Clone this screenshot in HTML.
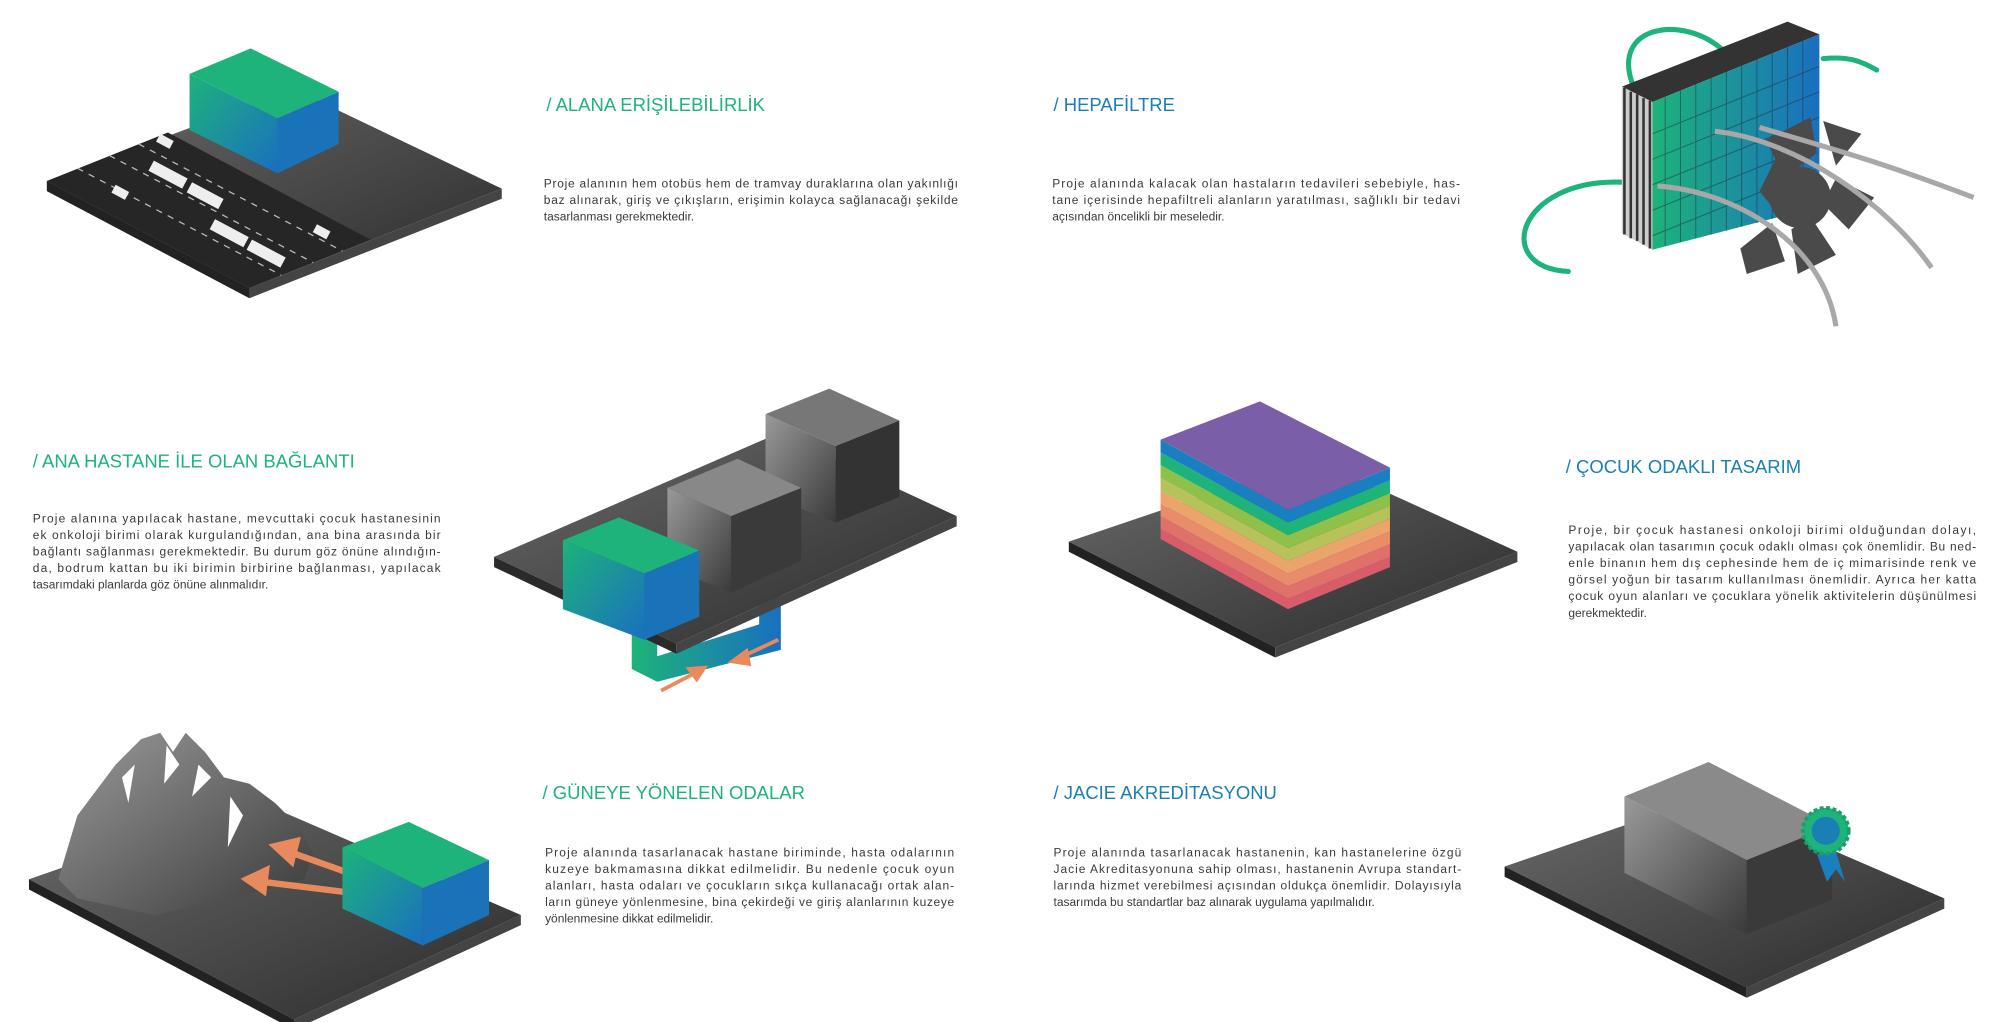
<!DOCTYPE html>
<html><head><meta charset="utf-8"><style>
html,body{margin:0;padding:0;background:#fff}
svg{display:block}
.t{font-family:"Liberation Sans",sans-serif;font-size:14.5px}
.b{font-family:"Liberation Sans",sans-serif;font-size:9.4px;fill:#3a3a3a}
.g{fill:#1db37a}.bl{fill:#1a7fb5}
</style></head><body>
<svg width="2000" height="1022" viewBox="0 0 1568 802" xmlns="http://www.w3.org/2000/svg">
<defs>
<linearGradient id="gb" x1="0" y1="0" x2="1" y2="1"><stop offset="0" stop-color="#1db37a"/><stop offset="1" stop-color="#1a6fc0"/></linearGradient>
<linearGradient id="gb2" x1="0" y1="0" x2="1" y2="0"><stop offset="0" stop-color="#1db37a"/><stop offset="1" stop-color="#1a6fc0"/></linearGradient>
<linearGradient id="gr" x1="0" y1="0" x2="1" y2="1"><stop offset="0" stop-color="#9a9a9a"/><stop offset="1" stop-color="#3a3a3a"/></linearGradient>
<linearGradient id="pl" x1="0" y1="0" x2="1" y2="1"><stop offset="0" stop-color="#6a6a6a"/><stop offset="1" stop-color="#2b2b2b"/></linearGradient>
</defs>

<!-- Panel 1 -->
<polygon points="36,142 195,226 393,148 230,70" fill="url(#pl)"/>
<polygon points="36,142 195,226 195,234 36,150" fill="#222"/>
<polygon points="195,226 393,148 393,156 195,234" fill="#444"/>
<polygon points="36,142 195,226 290,188 131,104" fill="#262626"/>
<g stroke="#bbb" stroke-width="1" stroke-dasharray="5,5">
<line x1="60" y1="132" x2="220" y2="216"/><line x1="85" y1="122" x2="245" y2="206"/><line x1="108" y1="113" x2="268" y2="197"/>
</g>
<g fill="#eee"><rect x="120" y="126" width="30" height="9" transform="rotate(28 120 126)"/><rect x="150" y="143" width="28" height="9" transform="rotate(28 150 143)"/><rect x="168" y="172" width="30" height="9" transform="rotate(28 168 172)"/><rect x="197" y="188" width="30" height="9" transform="rotate(28 197 188)"/><rect x="90" y="145" width="12" height="7" transform="rotate(28 90 145)"/><rect x="125" y="105" width="12" height="7" transform="rotate(28 125 105)"/><rect x="248" y="176" width="12" height="7" transform="rotate(28 248 176)"/></g>
<polygon points="148,58 196,38 265,72 217,93" fill="#1db37a"/>
<polygon points="148,58 217,93 217,136 148,102" fill="url(#gb)"/>
<polygon points="217,93 265,72 265,113 217,136" fill="#1a72b8"/>

<text class="t g" x="428" y="87">/ ALANA ERİŞİLEBİLİRLİK</text>
<text class="b" x="426" y="147" textLength="325">Proje alanının hem otobüs hem de tramvay duraklarına olan yakınlığı</text>
<text class="b" x="426" y="160" textLength="325">baz alınarak, giriş ve çıkışların, erişimin kolayca sağlanacağı şekilde</text>
<text class="b" x="426" y="173">tasarlanması gerekmektedir.</text>

<text class="t bl" x="826" y="87">/ HEPAFİLTRE</text>
<text class="b" x="825" y="147" textLength="320">Proje alanında kalacak olan hastaların tedavileri sebebiyle, has-</text>
<text class="b" x="825" y="160" textLength="320">tane içerisinde hepafiltreli alanların yaratılması, sağlıklı bir tedavi</text>
<text class="b" x="825" y="173">açısından öncelikli bir meseledir.</text>

<!-- Panel 2 filter -->
<g fill="none" stroke="#1db37a" stroke-width="4" stroke-linecap="round">
<path d="M1282,70 C1260,20 1320,10 1352,40"/>
<path d="M1430,46 C1450,44 1460,48 1472,55"/>
<path d="M1272,143 C1190,140 1170,210 1230,213"/>
</g>
<polygon points="1272,68 1402,17 1427,27 1296,80" fill="#333"/>
<polygon points="1272,68 1296,80 1296,196 1272,183" fill="#ccc"/>
<g stroke="#333" stroke-width="2"><line x1="1274" y1="69" x2="1274" y2="184"/><line x1="1279" y1="72" x2="1279" y2="187"/><line x1="1284" y1="74" x2="1284" y2="189"/><line x1="1289" y1="77" x2="1289" y2="192"/><line x1="1294" y1="79" x2="1294" y2="195"/></g>
<polygon points="1296,80 1427,27 1427,162 1296,196" fill="url(#gb2)"/>
<g stroke="#1f2f3a" stroke-width="0.8" opacity="0.5">
<line x1="1306" y1="76" x2="1306" y2="193"/><line x1="1318" y1="71" x2="1318" y2="190"/><line x1="1330" y1="66" x2="1330" y2="187"/><line x1="1342" y1="61" x2="1342" y2="184"/><line x1="1354" y1="56" x2="1354" y2="181"/><line x1="1366" y1="51" x2="1366" y2="178"/><line x1="1378" y1="46" x2="1378" y2="175"/><line x1="1390" y1="42" x2="1390" y2="172"/><line x1="1402" y1="37" x2="1402" y2="169"/><line x1="1414" y1="32" x2="1414" y2="166"/>
<line x1="1296" y1="105" x2="1427" y2="52"/><line x1="1296" y1="125" x2="1427" y2="72"/><line x1="1296" y1="145" x2="1427" y2="92"/><line x1="1296" y1="165" x2="1427" y2="112"/><line x1="1296" y1="185" x2="1427" y2="132"/>
</g>
<g fill="#4a4a4a">
<polygon points="1385,110 1420,92 1425,120 1400,140"/><polygon points="1430,95 1460,105 1440,130"/><polygon points="1440,140 1470,155 1450,180 1430,160"/><polygon points="1420,170 1440,200 1410,215 1405,180"/><polygon points="1390,175 1400,205 1370,215 1365,195"/><polygon points="1380,150 1395,120 1410,145 1400,175"/>
<circle cx="1412" cy="155" r="24"/>
</g>
<g fill="none" stroke="#a8a8a8" stroke-width="4">
<path d="M1345,103 C1410,110 1480,160 1515,210"/>
<path d="M1300,146 C1360,150 1430,190 1440,256"/>
<path d="M1380,100 C1430,115 1470,125 1548,155"/>
</g>

<!-- Middle left text -->
<text class="t g" x="25" y="367">/ ANA HASTANE İLE OLAN BAĞLANTI</text>
<text class="b" x="25" y="410" textLength="320">Proje alanına yapılacak hastane, mevcuttaki çocuk hastanesinin</text>
<text class="b" x="25" y="423" textLength="320">ek onkoloji birimi olarak kurgulandığından, ana bina arasında bir</text>
<text class="b" x="25" y="436" textLength="320">bağlantı sağlanması gerekmektedir. Bu durum göz önüne alındığın-</text>
<text class="b" x="25" y="449" textLength="320">da, bodrum kattan bu iki birimin birbirine bağlanması, yapılacak</text>
<text class="b" x="25" y="462">tasarımdaki planlarda göz önüne alınmalıdır.</text>

<!-- Panel 3 -->
<polygon points="495,495 612,450 612,510 515,535 495,525" fill="url(#gb2)"/>
<polygon points="515,495 595,465 595,490 515,515" fill="#fff"/>
<polygon points="387,437 530,505 750,405 610,340" fill="url(#pl)"/>
<polygon points="387,437 530,505 530,513 387,445" fill="#2a2a2a"/>
<polygon points="530,505 750,405 750,413 530,513" fill="#444"/>
<polygon points="600,325 650,305 705,330 655,350" fill="#777"/>
<polygon points="600,325 655,350 655,410 600,388" fill="url(#gr)"/>
<polygon points="655,350 705,330 705,390 655,410" fill="#333"/>
<polygon points="523,383 578,360 628,383 573,405" fill="#888"/>
<polygon points="523,383 573,405 573,465 523,445" fill="url(#gr)"/>
<polygon points="573,405 628,383 628,440 573,465" fill="#3a3a3a"/>
<polygon points="441,424 485,406 548,432 505,450" fill="#1db37a"/>
<polygon points="441,424 505,450 505,502 441,478" fill="url(#gb)"/>
<polygon points="505,450 548,432 548,484 505,502" fill="#1a72b8"/>
<g stroke="#e98a5c" stroke-width="3" fill="#e98a5c"><line x1="518" y1="542" x2="545" y2="528"/><polygon points="552,524 540,525 546,533"/><line x1="610" y1="502" x2="580" y2="516"/><polygon points="574,519 585,511 587,521"/></g>

<!-- Panel 4 -->
<polygon points="838,425 1000,508 1190,433 1030,360" fill="url(#pl)"/>
<polygon points="838,425 1000,508 1000,516 838,433" fill="#222"/>
<polygon points="1000,508 1190,433 1190,441 1000,516" fill="#444"/>
<g>
<polygon points="910,415 1010,470 1090,437 1090,445 1010,478 910,423" fill="#d85c6a"/>
<polygon points="910,405 1010,460 1090,427 1090,437 1010,470 910,415" fill="#e0706a"/>
<polygon points="910,395 1010,450 1090,417 1090,427 1010,460 910,405" fill="#e88c6a"/>
<polygon points="910,385 1010,440 1090,407 1090,417 1010,450 910,395" fill="#eba46a"/>
<polygon points="910,375 1010,430 1090,397 1090,407 1010,440 910,385" fill="#b8c25a"/>
<polygon points="910,365 1010,420 1090,387 1090,397 1010,430 910,375" fill="#8fc04a"/>
<polygon points="910,355 1010,410 1090,377 1090,387 1010,420 910,365" fill="#1db37a"/>
<polygon points="910,345 1010,400 1090,367 1090,377 1010,410 910,355" fill="#1a7fc0"/>
<polygon points="910,345 988,315 1090,367 1010,400" fill="#7a5ea8"/>
</g>

<text class="t bl" x="1228" y="371">/ ÇOCUK ODAKLI TASARIM</text>
<text class="b" x="1230" y="419" textLength="320">Proje, bir çocuk hastanesi onkoloji birimi olduğundan dolayı,</text>
<text class="b" x="1230" y="432" textLength="320">yapılacak olan tasarımın çocuk odaklı olması çok önemlidir. Bu ned-</text>
<text class="b" x="1230" y="445" textLength="320">enle binanın hem dış cephesinde hem de iç mimarisinde renk ve</text>
<text class="b" x="1230" y="458" textLength="320">görsel yoğun bir tasarım kullanılması önemlidir. Ayrıca her katta</text>
<text class="b" x="1230" y="471" textLength="320">çocuk oyun alanları ve çocuklara yönelik aktivitelerin düşünülmesi</text>
<text class="b" x="1230" y="484">gerekmektedir.</text>

<!-- Panel 5 -->
<polygon points="22,690 230,800 408,718 200,628" fill="url(#pl)"/>
<polygon points="22,690 230,800 230,808 22,698" fill="#222"/>
<polygon points="230,800 408,718 408,726 230,808" fill="#444"/>
<polygon points="45,690 60,640 90,600 110,580 125,575 135,590 145,575 160,590 175,610 195,615 215,630 235,650 245,670 238,690 200,700 120,718 60,705" fill="url(#gr)"/>
<g fill="#fff"><polygon points="95,610 105,600 100,630"/><polygon points="130,585 140,600 128,615"/><polygon points="180,625 190,640 178,665"/><polygon points="155,600 165,610 150,625"/></g>
<g stroke="#e98a5c" stroke-width="5" fill="#e98a5c"><line x1="270" y1="684" x2="225" y2="668"/><polygon points="215,664 232,660 228,676"/><line x1="270" y1="700" x2="205" y2="692"/><polygon points="193,690 208,683 206,699"/></g>
<polygon points="268,665 320,645 383,675 331,697" fill="#1db37a"/>
<polygon points="268,665 331,697 331,742 268,713" fill="url(#gb)"/>
<polygon points="331,697 383,675 383,718 331,742" fill="#1a72b8"/>

<text class="t g" x="425" y="627">/ GÜNEYE YÖNELEN ODALAR</text>
<text class="b" x="427" y="672" textLength="321">Proje alanında tasarlanacak hastane biriminde, hasta odalarının</text>
<text class="b" x="427" y="685" textLength="321">kuzeye bakmamasına dikkat edilmelidir. Bu nedenle çocuk oyun</text>
<text class="b" x="427" y="698" textLength="321">alanları, hasta odaları ve çocukların sıkça kullanacağı ortak alan-</text>
<text class="b" x="427" y="711" textLength="321">ların güneye yönlenmesine, bina çekirdeği ve giriş alanlarının kuzeye</text>
<text class="b" x="427" y="724">yönlenmesine dikkat edilmelidir.</text>

<text class="t bl" x="826" y="627">/ JACIE AKREDİTASYONU</text>
<text class="b" x="826" y="672" textLength="320">Proje alanında tasarlanacak hastanenin, kan hastanelerine özgü</text>
<text class="b" x="826" y="685" textLength="320">Jacie Akreditasyonuna sahip olması, hastanenin Avrupa standart-</text>
<text class="b" x="826" y="698" textLength="320">larında hizmet verebilmesi açısından oldukça önemlidir. Dolayısıyla</text>
<text class="b" x="826" y="711">tasarımda bu standartlar baz alınarak uygulama yapılmalıdır.</text>

<!-- Panel 6 -->
<polygon points="1180,680 1370,775 1525,705 1340,625" fill="url(#pl)"/>
<polygon points="1180,680 1370,775 1370,783 1180,688" fill="#222"/>
<polygon points="1370,775 1525,705 1525,713 1370,783" fill="#444"/>
<polygon points="1274,625 1340,598 1437,648 1370,675" fill="#8a8a8a"/>
<polygon points="1274,625 1370,675 1370,733 1274,685" fill="url(#gr)"/>
<polygon points="1370,675 1437,648 1437,706 1370,733" fill="#3a3a3a"/>
<polygon points="1425,670 1433,692 1440,682 1447,692 1440,668" fill="#1a7fc0"/>
<circle cx="1432" cy="652" r="18" fill="#1db37a" stroke="#1a9f6a" stroke-width="3" stroke-dasharray="3,2"/>
<circle cx="1432" cy="652" r="11" fill="#1a7fb5"/>
</svg>
</body></html>
